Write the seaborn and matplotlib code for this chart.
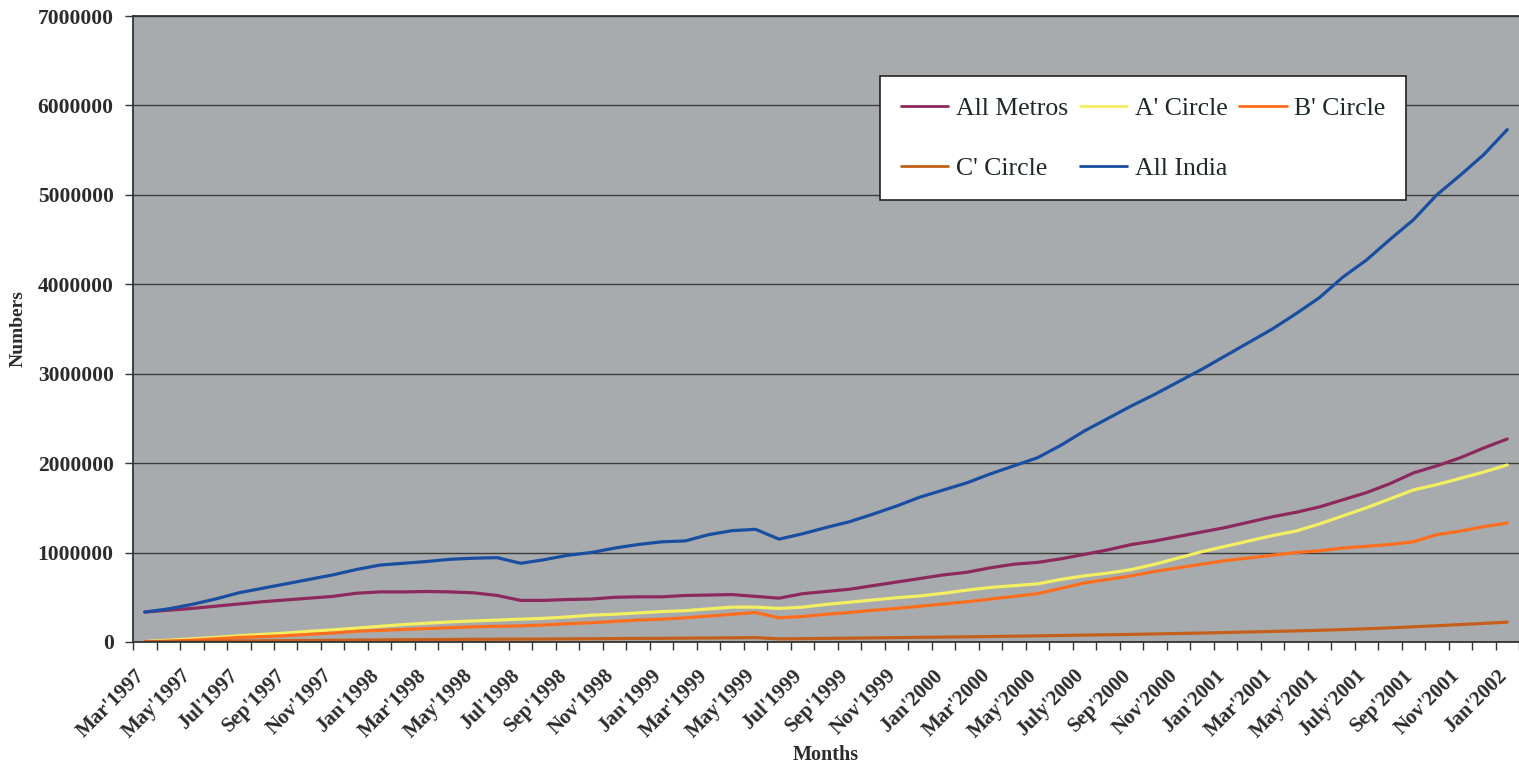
import numpy as np
import pandas as pd
import matplotlib
matplotlib.use("Agg")
import matplotlib.pyplot as plt
import seaborn as sns

# Monthly categories, Mar'1997 .. Jan'2002
months = [
    "Mar'1997", "Apr'1997", "May'1997", "Jun'1997", "Jul'1997", "Aug'1997",
    "Sep'1997", "Oct'1997", "Nov'1997", "Dec'1997", "Jan'1998", "Feb'1998",
    "Mar'1998", "Apr'1998", "May'1998", "Jun'1998", "Jul'1998", "Aug'1998",
    "Sep'1998", "Oct'1998", "Nov'1998", "Dec'1998", "Jan'1999", "Feb'1999",
    "Mar'1999", "Apr'1999", "May'1999", "Jun'1999", "Jul'1999", "Aug'1999",
    "Sep'1999", "Oct'1999", "Nov'1999", "Dec'1999", "Jan'2000", "Feb'2000",
    "Mar'2000", "Apr'2000", "May'2000", "Jun'2000", "July'2000", "Aug'2000",
    "Sep'2000", "Oct'2000", "Nov'2000", "Dec'2000", "Jan'2001", "Feb'2001",
    "Mar'2001", "Apr'2001", "May'2001", "Jun'2001", "July'2001", "Aug'2001",
    "Sep'2001", "Oct'2001", "Nov'2001", "Dec'2001", "Jan'2002",
]

# Subscriber counts in millions
all_metros = [
    0.335, 0.355, 0.375, 0.40, 0.425, 0.45, 0.47, 0.49, 0.51, 0.545,
    0.56, 0.56, 0.565, 0.56, 0.55, 0.52, 0.465, 0.465, 0.475, 0.48,
    0.50, 0.505, 0.505, 0.52, 0.525, 0.53, 0.51, 0.49, 0.54, 0.565,
    0.59, 0.63, 0.67, 0.71, 0.75, 0.78, 0.83, 0.87, 0.89, 0.93,
    0.98, 1.03, 1.09, 1.13, 1.18, 1.23, 1.28, 1.34, 1.40, 1.45,
    1.51, 1.59, 1.67, 1.77, 1.89, 1.97, 2.06, 2.17, 2.27,
]
a_circle = [
    0.005, 0.02, 0.035, 0.05, 0.07, 0.085, 0.10, 0.12, 0.135, 0.155,
    0.175, 0.195, 0.21, 0.225, 0.235, 0.245, 0.255, 0.265, 0.28, 0.30,
    0.31, 0.325, 0.34, 0.35, 0.37, 0.39, 0.39, 0.375, 0.39, 0.42,
    0.445, 0.47, 0.495, 0.515, 0.545, 0.58, 0.61, 0.63, 0.65, 0.70,
    0.74, 0.77, 0.81, 0.87, 0.94, 1.01, 1.07, 1.13, 1.19, 1.24,
    1.32, 1.41, 1.50, 1.60, 1.70, 1.76, 1.83, 1.90, 1.98,
]
b_circle = [
    0.0, 0.01, 0.02, 0.035, 0.05, 0.06, 0.07, 0.085, 0.10, 0.12,
    0.13, 0.14, 0.15, 0.16, 0.17, 0.175, 0.18, 0.19, 0.205, 0.215,
    0.23, 0.245, 0.255, 0.27, 0.29, 0.31, 0.33, 0.27, 0.285, 0.31,
    0.33, 0.355, 0.375, 0.40, 0.425, 0.45, 0.48, 0.51, 0.54, 0.60,
    0.66, 0.70, 0.74, 0.79, 0.83, 0.87, 0.91, 0.94, 0.97, 1.00,
    1.02, 1.05, 1.07, 1.09, 1.12, 1.20, 1.24, 1.29, 1.33,
]
c_circle = [
    0.003, 0.005, 0.007, 0.009, 0.011, 0.013, 0.015, 0.017, 0.019, 0.021,
    0.023, 0.025, 0.027, 0.028, 0.030, 0.031, 0.032, 0.033, 0.035, 0.036,
    0.038, 0.040, 0.041, 0.043, 0.045, 0.047, 0.049, 0.035, 0.037, 0.040,
    0.043, 0.046, 0.049, 0.052, 0.055, 0.058, 0.061, 0.065, 0.069, 0.073,
    0.077, 0.081, 0.085, 0.090, 0.095, 0.100, 0.106, 0.112, 0.118, 0.124,
    0.131, 0.139, 0.148, 0.158, 0.170, 0.182, 0.195, 0.208, 0.222,
]
all_india = [
    0.335, 0.37, 0.42, 0.48, 0.55, 0.60, 0.65, 0.70, 0.75, 0.81,
    0.86, 0.88, 0.90, 0.925, 0.937, 0.943, 0.88, 0.92, 0.97, 1.00,
    1.05, 1.09, 1.12, 1.13, 1.20, 1.245, 1.26, 1.15, 1.21, 1.28,
    1.345, 1.43, 1.52, 1.62, 1.70, 1.78, 1.88, 1.97, 2.06, 2.20,
    2.36, 2.50, 2.64, 2.77, 2.91, 3.05, 3.20, 3.35, 3.50, 3.67,
    3.85, 4.08, 4.27, 4.50, 4.72, 5.00, 5.22, 5.45, 5.73,
]

series_names = ["All Metros", "A' Circle", "B' Circle", "C' Circle", "All India"]
series_values = [all_metros, a_circle, b_circle, c_circle, all_india]
series_colors = ["#8c2a5e", "#f4ef62", "#ff6e1e", "#c4601c", "#1a4ea0"]

n = len(months)
frames = []
for name, vals in zip(series_names, series_values):
    frames.append(pd.DataFrame({
        "idx": np.arange(n),
        "value": np.array(vals) * 1e6,
        "series": name,
    }))
df = pd.concat(frames, ignore_index=True)

sns.set_style("ticks")
plt.rcParams["font.family"] = ["Liberation Serif", "DejaVu Serif"]

fig = plt.figure(figsize=(15.19, 7.63), dpi=100)
fig.patch.set_facecolor("white")
ax = fig.add_axes([0.0876, 0.1586, 0.9124, 0.8204])
ax.set_facecolor("#a8abad")

sns.lineplot(data=df, x="idx", y="value", hue="series",
             hue_order=series_names,
             palette=dict(zip(series_names, series_colors)),
             linewidth=2.3, ax=ax, legend=False, sort=False)

ax.set_xlim(-0.5, n - 0.5)
ax.set_ylim(0, 7e6)

# horizontal gridlines
ax.set_yticks(np.arange(0, 7e6 + 1, 1e6))
ax.set_yticklabels([f"{int(v)}" for v in np.arange(0, 7e6 + 1, 1e6)],
                   fontsize=15.5, fontweight="bold", color="#2b2b2b")
ax.yaxis.grid(True, color="#3c3c3c", linewidth=1.0)
ax.set_axisbelow(True)

# tick marks on category boundaries, labels on every second month
ax.xaxis.remove_overlapping_locs = False
ax.set_xticks(np.arange(-0.5, n, 1.0))
ax.set_xticklabels([])
ax.set_xticks(np.arange(0, n, 2) - 0.45, minor=True)
ax.set_xticklabels(months[::2], minor=True, rotation=45, ha="right",
                   rotation_mode="anchor", fontsize=15, fontweight="bold",
                   color="#2b2b2b")
ax.tick_params(axis="x", which="major", length=6, width=1.0, color="#333333",
               direction="out")
ax.tick_params(axis="x", which="minor", length=0, pad=17)
ax.tick_params(axis="y", length=6, width=1.0, color="#333333", pad=8)

for side in ["left", "bottom", "top"]:
    ax.spines[side].set_color("#333333")
    ax.spines[side].set_linewidth(1.3)
ax.spines["right"].set_visible(False)

ax.set_xlabel("Months", fontsize=14.5, fontweight="bold", color="#2b2b2b",
              labelpad=2)
ax.set_ylabel("Numbers", fontsize=14, fontweight="bold", color="#2b2b2b",
              labelpad=8)

# legend in row-major order: three per row
handles = [plt.Line2D([], [], color=c, linewidth=2) for c in series_colors]
order = [0, 3, 1, 4, 2]
leg = ax.legend([handles[i] for i in order], [series_names[i] for i in order],
                ncol=3, loc="upper left", bbox_to_anchor=(0.539, 0.904),
                fontsize=18.5, frameon=True, fancybox=False,
                edgecolor="#222222", facecolor="white", framealpha=1.0,
                handlelength=1.85, handletextpad=0.3, columnspacing=0.45,
                labelspacing=1.45, borderpad=0.8, borderaxespad=0)
leg.get_frame().set_linewidth(1.2)
for t in leg.get_texts():
    t.set_color("#1e2a24")

fig.savefig("out.png", dpi=100, facecolor="white")
